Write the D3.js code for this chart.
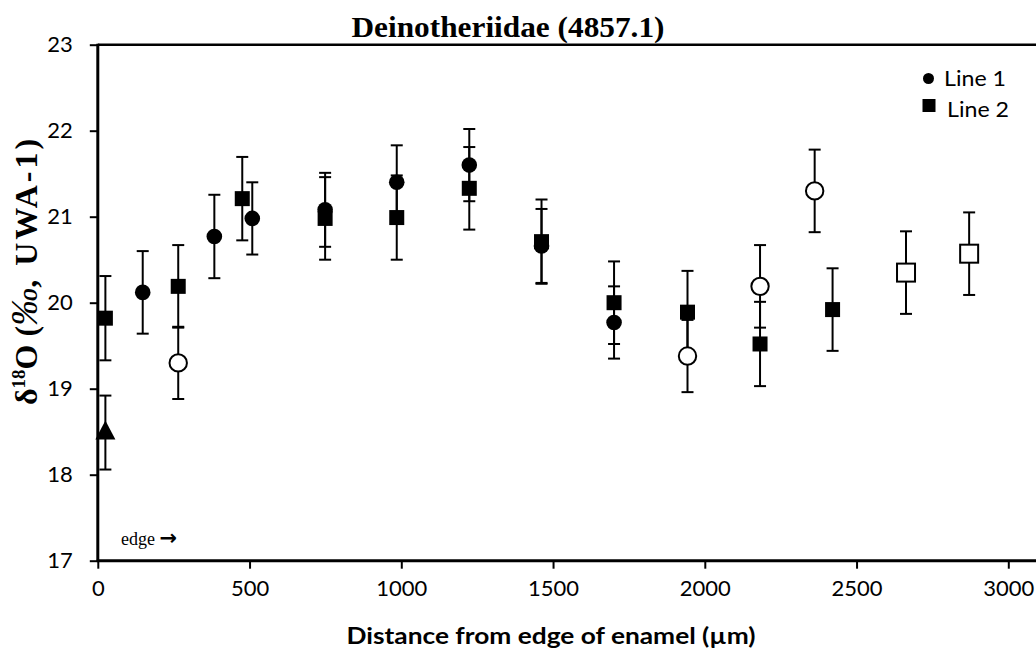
<!DOCTYPE html>
<html><head><meta charset="utf-8">
<script src="https://cdn.jsdelivr.net/npm/d3@7/dist/d3.min.js"></script>
<style>body{margin:0;background:#fff}svg{display:block}</style>
</head><body>
<script>
const xTicks = [0, 500, 1000, 1500, 2000, 2500, 3000];
const yTicks = [17, 18, 19, 20, 21, 22, 23];

const line1X = [148, 384, 509, 749, 985, 1224, 1462, 1701];
const line1Y = [20.12, 20.77, 20.98, 21.08, 21.40, 21.60, 20.66, 19.77];
const line1Err = [0.48, 0.485, 0.42, 0.43, 0.43, 0.42, 0.43, 0.42];

const line2X = [25, 265, 476, 749, 985, 1224, 1462, 1701, 1943, 2182, 2421];
const line2Y = [19.82, 20.19, 21.21, 20.98, 20.99, 21.33, 20.71, 20.00, 19.89, 19.52, 19.92];
const line2Err = [0.49, 0.48, 0.485, 0.48, 0.49, 0.48, 0.49, 0.48, 0.48, 0.49, 0.48];

const openCircX = [265, 1943, 2182, 2362];
const openCircY = [19.30, 19.38, 20.19, 21.30];
const openCircErr = [0.42, 0.42, 0.48, 0.48];

const openSqX = [2663, 2871];
const openSqY = [20.35, 20.57];
const openSqErr = [0.48, 0.48];

const triX = [25];
const triY = [18.49];
const triErr = [0.43];

const legendLabels = ["Line 1", "Line 2"];

const W = 1036, H = 648;
const svg = d3.select("body").append("svg").attr("width", W).attr("height", H);

const x = d3.scaleLinear().domain([0, 3100]).range([97.8, 97.8 + 3100 * 0.3035]);
const y = d3.scaleLinear().domain([17, 23]).range([560.7, 44.7]);

const tickFont = "Lato, 'Open Sans', sans-serif";
const serif = "'Liberation Serif', 'Times New Roman', serif";

// axes
const gy = svg.append("g").attr("transform", `translate(${x(0)},0)`)
  .call(d3.axisLeft(y).tickValues(yTicks).tickFormat(d3.format("d")).tickSize(8).tickSizeOuter(0).tickPadding(17));
const gx = svg.append("g").attr("transform", `translate(0,${y(17)})`)
  .call(d3.axisBottom(x).tickValues(xTicks).tickFormat(d3.format("d")).tickSize(8).tickSizeOuter(0).tickPadding(12));
[gy, gx].forEach(g => {
  g.select(".domain").remove();
  g.selectAll(".tick line").attr("stroke", "#000").attr("stroke-width", 2);
  g.selectAll(".tick text").attr("fill", "#000").style("font-family", tickFont).style("font-size", "22px");
});

// frame lines
svg.append("line").attr("x1", x(0)).attr("x2", W).attr("y1", y(23)).attr("y2", y(23))
  .attr("stroke", "#000").attr("stroke-width", 2.5);
svg.append("line").attr("x1", x(0) - 1).attr("x2", W).attr("y1", y(17)).attr("y2", y(17))
  .attr("stroke", "#000").attr("stroke-width", 3);
svg.append("line").attr("x1", x(0)).attr("x2", x(0)).attr("y1", y(23) - 1).attr("y2", y(17) + 1)
  .attr("stroke", "#000").attr("stroke-width", 3);

// data assembly
function pts(xs, ys, es) { return xs.map((v, i) => ({x: v, y: ys[i], e: es[i]})); }
const all = [].concat(pts(line1X, line1Y, line1Err), pts(line2X, line2Y, line2Err),
  pts(openCircX, openCircY, openCircErr), pts(openSqX, openSqY, openSqErr), pts(triX, triY, triErr));

const eb = svg.append("g").attr("stroke", "#000").attr("stroke-width", 2);
all.forEach(d => {
  eb.append("line").attr("x1", x(d.x)).attr("x2", x(d.x)).attr("y1", y(d.y - d.e)).attr("y2", y(d.y + d.e));
  [d.y - d.e, d.y + d.e].forEach(v => {
    eb.append("line").attr("x1", x(d.x) - 6).attr("x2", x(d.x) + 6).attr("y1", y(v)).attr("y2", y(v));
  });
});

// markers
svg.append("g").selectAll("rect").data(pts(line2X, line2Y, line2Err)).join("rect")
  .attr("x", d => x(d.x) - 7.5).attr("y", d => y(d.y) - 7.5).attr("width", 15).attr("height", 15).attr("fill", "#000");
svg.append("g").selectAll("circle").data(pts(line1X, line1Y, line1Err)).join("circle")
  .attr("cx", d => x(d.x)).attr("cy", d => y(d.y)).attr("r", 7.8).attr("fill", "#000");
svg.append("g").selectAll("circle").data(pts(openCircX, openCircY, openCircErr)).join("circle")
  .attr("cx", d => x(d.x)).attr("cy", d => y(d.y)).attr("r", 8.7).attr("fill", "#fff").attr("stroke", "#000").attr("stroke-width", 2);
svg.append("g").selectAll("rect").data(pts(openSqX, openSqY, openSqErr)).join("rect")
  .attr("x", d => x(d.x) - 9).attr("y", d => y(d.y) - 9).attr("width", 18).attr("height", 18)
  .attr("fill", "#fff").attr("stroke", "#000").attr("stroke-width", 2);
svg.append("g").selectAll("path").data(pts(triX, triY, triErr)).join("path")
  .attr("d", d => { const cx = x(d.x), cy = y(d.y); return `M${cx},${cy - 12}L${cx + 10},${cy + 7}L${cx - 10},${cy + 7}Z`; })
  .attr("fill", "#000");

// title
svg.append("text").attr("x", 508).attr("y", 37).attr("text-anchor", "middle")
  .style("font-family", serif).style("font-weight", "bold").style("font-size", "30px")
  .attr("textLength", 313).attr("lengthAdjust", "spacingAndGlyphs")
  .text("Deinotheriidae (4857.1)");

// y label (drawn from bottom at y=405 upward)
const yl = svg.append("text").attr("transform", "translate(37,405) rotate(-90)").attr("text-anchor", "start")
  .style("font-family", serif).style("font-weight", "bold").style("font-size", "32px");
yl.append("tspan").text("δ");
yl.append("tspan").attr("dy", -12).style("font-size", "19px").text("18");
yl.append("tspan").attr("dy", 12).text("O (");
yl.append("tspan").style("font-style", "italic").style("font-weight", "normal").style("font-size", "38px").text("‰");
const ylRest = yl.append("tspan").text(", UWA-1)");
{
  const total = yl.node().getComputedTextLength();
  const n = ", UWA-1)".length;
  const ls = Math.max(0, Math.min(3, (280 - total) / n));
  ylRest.style("letter-spacing", ls + "px");
}

// x label
svg.append("text").attr("x", 551).attr("y", 644).attr("text-anchor", "middle")
  .style("font-family", tickFont).style("font-weight", "bold").style("font-size", "23px")
  .attr("textLength", 409).attr("lengthAdjust", "spacingAndGlyphs")
  .text("Distance from edge of enamel (µm)");

// edge annotation
const ed = svg.append("text").attr("x", 121).attr("y", 545)
  .style("font-family", serif).style("font-size", "18px");
ed.append("tspan").text("edge ");
ed.append("tspan").style("font-family", "'DejaVu Sans', sans-serif").style("font-weight", "bold").style("font-size", "21px").text("→");

// legend
const lg = svg.append("g");
lg.append("circle").attr("cx", 928.5).attr("cy", 78.5).attr("r", 5.5).attr("fill", "#000");
lg.append("rect").attr("x", 922.5).attr("y", 99).attr("width", 13).attr("height", 13).attr("fill", "#000");
lg.selectAll("text").data(legendLabels).join("text")
  .attr("x", (d, i) => i === 0 ? 944 : 947).attr("y", (d, i) => i === 0 ? 85.5 : 117)
  .style("font-family", tickFont).style("font-size", "21px")
  .attr("textLength", 62).attr("lengthAdjust", "spacingAndGlyphs")
  .text(d => d);
</script>
</body></html>
